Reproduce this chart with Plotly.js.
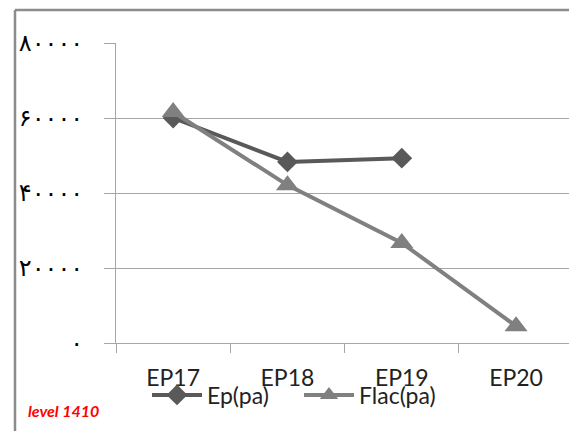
<!DOCTYPE html>
<html>
<head>
<meta charset="utf-8">
<script src="https://cdn.plot.ly/plotly-3.0.1.min.js"></script>
<style>html,body{margin:0;padding:0;background:#fff;}#chart{width:569px;height:431px;}</style>
</head>
<body>
<div id="chart"></div>
<script>
var categories = ["EP17", "EP18", "EP19", "EP20"];
var epValues = [60000, 48300, 49300, null];
var flacValues = [61600, 42100, 26700, 4500];
var yTickVals = [0, 20000, 40000, 60000, 80000];
var yTickText = ["۰", "۲۰۰۰۰", "۴۰۰۰۰", "۶۰۰۰۰", "۸۰۰۰۰"];

var traces = [
  {
    x: categories, y: epValues, name: "Ep(pa)", type: "scatter", mode: "lines+markers",
    line: {color: "#595959", width: 4},
    marker: {symbol: "diamond", size: 16, color: "#595959"},
    legend: "legend"
  },
  {
    x: categories, y: flacValues, name: "Flac(pa)", type: "scatter", mode: "lines+markers",
    line: {color: "#808080", width: 4},
    marker: {symbol: "triangle-up", size: 20, color: "#808080"},
    legend: "legend2"
  }
];

var L = 116, T = 43, W = 453, H = 300;
function px(x) { return (x - L) / W; }
function py(y) { return (T + H - y) / H; }

var legFont = {family: "Lato, 'Open Sans', sans-serif", size: 23, color: "#222222"};

var layout = {
  width: 569, height: 431,
  margin: {l: L, r: 0, t: T, b: 431 - T - H, pad: 0},
  paper_bgcolor: "#ffffff", plot_bgcolor: "#ffffff",
  showlegend: true,
  xaxis: {
    type: "category", range: [-0.5, 3.463],
    tickson: "boundaries", ticks: "outside", ticklen: 9, tickcolor: "#a6a6a6", tickwidth: 1,
    showgrid: false, showline: true, linecolor: "#a6a6a6", linewidth: 1,
    tickfont: {family: "Lato, 'Open Sans', sans-serif", size: 23, color: "#222222"},
    ticklabelstandoff: 14, zeroline: false
  },
  yaxis: {
    range: [0, 80000], tickmode: "array", tickvals: yTickVals, ticktext: yTickText,
    ticks: "outside", ticklen: 11, tickcolor: "#a6a6a6", tickwidth: 1,
    showgrid: true, gridcolor: "#a6a6a6", gridwidth: 1,
    showline: true, linecolor: "#a6a6a6", linewidth: 1, zeroline: false,
    tickfont: {family: "'DejaVu Sans', sans-serif", size: 24, color: "#000000"},
    ticklabelstandoff: 16
  },
  legend: {
    orientation: "h", x: px(147), xanchor: "left", y: py(395), yanchor: "middle",
    font: legFont, bgcolor: "rgba(0,0,0,0)", itemwidth: 50
  },
  legend2: {
    orientation: "h", x: px(299), xanchor: "left", y: py(395), yanchor: "middle",
    font: legFont, bgcolor: "rgba(0,0,0,0)", itemwidth: 50
  },
  shapes: [
    {type: "line", xref: "paper", yref: "paper", x0: px(15), x1: px(575), y0: py(10), y1: py(10),
     line: {color: "#8c8c8c", width: 2.5}},
    {type: "line", xref: "paper", yref: "paper", x0: px(15), x1: px(15), y0: py(10), y1: py(440),
     line: {color: "#8c8c8c", width: 2.5}}
  ],
  annotations: [
    {xref: "paper", yref: "paper", x: px(26), y: py(410), xanchor: "left", yanchor: "middle",
     text: "<b><i>level 1410</i></b>", showarrow: false,
     font: {family: "Lato, 'Open Sans', sans-serif", size: 16, color: "#ff0000"}}
  ],
  hovermode: false
};

Plotly.newPlot("chart", traces, layout, {displayModeBar: false, staticPlot: true});
</script>
</body>
</html>
